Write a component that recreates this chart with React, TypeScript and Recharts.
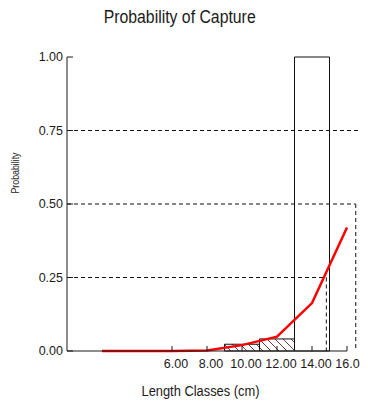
import React from "react";
import {
  ComposedChart,
  Bar,
  Line,
  XAxis,
  YAxis,
  ReferenceLine,
  Cell,
  Customized,
} from "recharts";

// ---- data ----
const lengthClasses = [2, 4, 6, 8, 10, 12, 14, 16];
const captureFreq: (number | null)[] = [null, null, null, null, 0.023, 0.041, 1.0, null];
const selectionCurve = [0, 0, 0, 0.002, 0.02, 0.049, 0.163, 0.42];
const hatched = [false, false, false, false, true, true, false, false];
const xTicks = [6, 8, 10, 12, 14, 16];
const yTicks = [0, 0.25, 0.5, 0.75, 1];
const refLevels = [0.25, 0.5, 0.75];
const refReach = [14.82, 16.5, 17.5];
const refDrop = [true, true, false];

const data = lengthClasses.map((x, i) => ({
  x,
  freq: captureFreq[i],
  prob: selectionCurve[i],
}));

const FONT = "'Liberation Sans', Arial, sans-serif";
const AX = "#1a1a1a";

const XTick = (props: any) => {
  const { x, y, payload } = props;
  return (
    <g>
      <line x1={x} x2={x} y1={y} y2={y - 5} stroke={AX} strokeWidth={1} />
      <text
        x={x + 4}
        y={y + 17}
        textAnchor="middle"
        fontSize={12.5}
        fontFamily={FONT}
        fill={AX}
      >
        {Number(payload.value).toFixed(2)}
      </text>
    </g>
  );
};

const YTick = (props: any) => {
  const { x, y, payload } = props;
  return (
    <g>
      <line x1={x} x2={x + 6} y1={y} y2={y} stroke={AX} strokeWidth={1} />
      <text
        x={x - 4}
        y={y}
        dy={4}
        textAnchor="end"
        fontSize={12.5}
        fontFamily={FONT}
        fill={AX}
      >
        {Number(payload.value).toFixed(2)}
      </text>
    </g>
  );
};

const Texts = () => (
  <g>
    <text
      x={171.7}
      y={15.3}
      textAnchor="middle"
      fontSize={17.5}
      textLength={152}
      lengthAdjust="spacingAndGlyphs"
      fontFamily={FONT}
      fill={AX}
    >
      Probability of Capture
    </text>
    <text
      x={10.5}
      y={165}
      transform="rotate(-90, 10.5, 165)"
      textAnchor="middle"
      fontSize={11.5}
      textLength={41}
      lengthAdjust="spacingAndGlyphs"
      fontFamily={FONT}
      fill={AX}
    >
      Probability
    </text>
    <text
      x={192.5}
      y={388}
      textAnchor="middle"
      fontSize={14}
      textLength={118}
      lengthAdjust="spacingAndGlyphs"
      fontFamily={FONT}
      fill={AX}
    >
      Length Classes (cm)
    </text>
  </g>
);

export default function App() {
  return (
    <ComposedChart
      width={360}
      height={399}
      data={data}
      margin={{ top: 49, right: 21, bottom: 26, left: 9 }}
      barCategoryGap={0}
      barGap={0}
    >
      <defs>
        <pattern id="hatch" width="8" height="8" patternUnits="userSpaceOnUse">
          <path
            d="M-2,6 L2,10 M0,0 L8,8 M6,-2 L10,2"
            stroke="#6e3a3a"
            strokeWidth={1}
          />
        </pattern>
      </defs>
      <XAxis
        dataKey="x"
        type="number"
        domain={[0, 16]}
        ticks={xTicks}
        interval={0}
        tickSize={0}
        tickMargin={0}
        tickLine={false}
        tick={<XTick />}
        axisLine={{ stroke: AX, strokeWidth: 1 }}
        height={30}
      />
      <YAxis
        type="number"
        domain={[0, 1]}
        ticks={yTicks}
        interval={0}
        tickSize={0}
        tickMargin={0}
        tickLine={false}
        tick={<YTick />}
        axisLine={{ stroke: AX, strokeWidth: 1 }}
        width={50}
      />
      <Bar dataKey="freq" stroke="#111" strokeWidth={1} isAnimationActive={false}>
        {data.map((d, i) => (
          <Cell key={i} fill={hatched[i] ? "url(#hatch)" : "#fff"} />
        ))}
      </Bar>
      {refLevels.map((lv, i) => (
        <ReferenceLine
          key={"h" + i}
          segment={[
            { x: 0, y: lv },
            { x: refReach[i], y: lv },
          ]}
          stroke="#111"
          strokeWidth={1}
          strokeDasharray="4 3"
          ifOverflow="visible"
        />
      ))}
      {refLevels.map((lv, i) =>
        refDrop[i] ? (
          <ReferenceLine
            key={"v" + i}
            segment={[
              { x: refReach[i], y: lv },
              { x: refReach[i], y: 0 },
            ]}
            stroke="#111"
            strokeWidth={1}
            strokeDasharray="4 3"
            ifOverflow="visible"
          />
        ) : null
      )}
      <Line
        dataKey="prob"
        type="linear"
        stroke="#ff0000"
        strokeWidth={2.5}
        dot={false}
        activeDot={false}
        isAnimationActive={false}
      />
      <Customized component={<Texts />} />
    </ComposedChart>
  );
}
